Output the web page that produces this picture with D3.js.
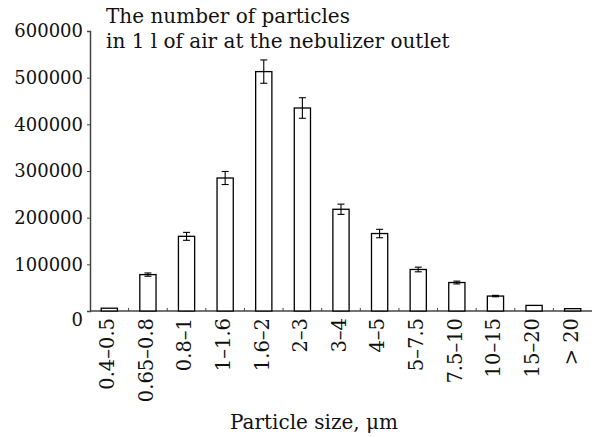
<!DOCTYPE html>
<html>
<head>
<meta charset="utf-8">
<script src="https://cdn.jsdelivr.net/npm/d3@7"></script>
<style>
  body { margin: 0; background: #fff; }
  svg text { font-family: "DejaVu Serif", serif; fill: #111; }
</style>
</head>
<body>
<svg width="595" height="437"></svg>
<script>
// Data
const sizes = ["0.4–0.5", "0.65–0.8", "0.8–1", "1–1.6", "1.6–2", "2–3", "3–4",
  "4–5", "5–7.5", "7.5–10", "10–15", "15–20", "> 20"];
const counts = [6000, 78000, 160000, 285000, 513000, 435000, 218000,
  166000, 89000, 61000, 32000, 12000, 5000];
const errors = [0, 3500, 8500, 14000, 25000, 22000, 11000,
  9000, 5000, 3000, 1500, 0, 0];
const yTicks = [0, 100000, 200000, 300000, 400000, 500000, 600000];

const svg = d3.select("svg");
const plotLeft = 90, plotRight = 592, plotTop = 31, plotBottom = 311;

const x = d3.scaleBand().domain(sizes).range([plotLeft, plotRight]).paddingInner(0.58).paddingOuter(0.29);
const xTicks = d3.scaleBand().domain(sizes).range([plotLeft, plotRight]);
const y = d3.scaleLinear().domain([0, 600000]).range([plotBottom, plotTop]);

const bars = sizes.map((s, i) => ({ s, v: counts[i], e: errors[i] }));

// y axis
const yAxis = svg.append("g")
  .attr("transform", `translate(${plotLeft},0)`)
  .call(d3.axisLeft(y).tickValues(yTicks).tickFormat(d3.format("d")).tickSize(3).tickPadding(4));
yAxis.select(".domain").attr("stroke", "#444").attr("stroke-width", 1.5);
yAxis.selectAll(".tick line").attr("stroke", "#444");
yAxis.selectAll("text").style("font-size", "18px").attr("fill", "#111");
yAxis.selectAll(".tick").filter(d => d === 0).select("text").attr("dy", "0.8em");

// x axis with ticks between bars, pointing inside
const xAxis = svg.append("g").attr("transform", `translate(0,${plotBottom})`);
xAxis.append("line")
  .attr("x1", plotLeft).attr("x2", plotRight)
  .attr("stroke", "#444").attr("stroke-width", 1.5);
xAxis.selectAll(".sep")
  .data(sizes.slice(1))
  .join("line")
  .attr("x1", d => xTicks(d)).attr("x2", d => xTicks(d))
  .attr("y1", 0).attr("y2", -3)
  .attr("stroke", "#444");
xAxis.selectAll(".lab")
  .data(sizes)
  .join("text")
  .attr("transform", d => `translate(${x(d) + x.bandwidth() / 2 - 2},7) rotate(-90)`)
  .attr("text-anchor", "end")
  .attr("dy", "0.35em")
  .style("font-size", "19.5px")
  .text(d => d);

// bars
svg.append("g").selectAll("rect")
  .data(bars)
  .join("rect")
  .attr("x", d => x(d.s))
  .attr("width", x.bandwidth())
  .attr("y", d => y(d.v))
  .attr("height", d => plotBottom - y(d.v))
  .attr("fill", "#fff")
  .attr("stroke", "#000")
  .attr("stroke-width", 1.3);

// error bars
const eb = svg.append("g").selectAll("g")
  .data(bars.filter(d => d.e > 0))
  .join("g")
  .attr("stroke", "#000")
  .attr("stroke-width", 1.1);
eb.append("line")
  .attr("x1", d => x(d.s) + x.bandwidth() / 2).attr("x2", d => x(d.s) + x.bandwidth() / 2)
  .attr("y1", d => y(d.v + d.e)).attr("y2", d => y(d.v - d.e));
eb.append("line")
  .attr("x1", d => x(d.s) + x.bandwidth() / 2 - 3.5).attr("x2", d => x(d.s) + x.bandwidth() / 2 + 3.5)
  .attr("y1", d => y(d.v + d.e)).attr("y2", d => y(d.v + d.e));
eb.append("line")
  .attr("x1", d => x(d.s) + x.bandwidth() / 2 - 3.5).attr("x2", d => x(d.s) + x.bandwidth() / 2 + 3.5)
  .attr("y1", d => y(d.v - d.e)).attr("y2", d => y(d.v - d.e));

// titles
svg.append("text").attr("x", 106).attr("y", 23).style("font-size", "20px")
  .text("The number of particles");
svg.append("text").attr("x", 106).attr("y", 48).style("font-size", "20px")
  .text("in 1 l of air at the nebulizer outlet");
svg.append("text").attr("x", 314).attr("y", 429).attr("text-anchor", "middle")
  .style("font-size", "20px")
  .text("Particle size, μm");
</script>
</body>
</html>
